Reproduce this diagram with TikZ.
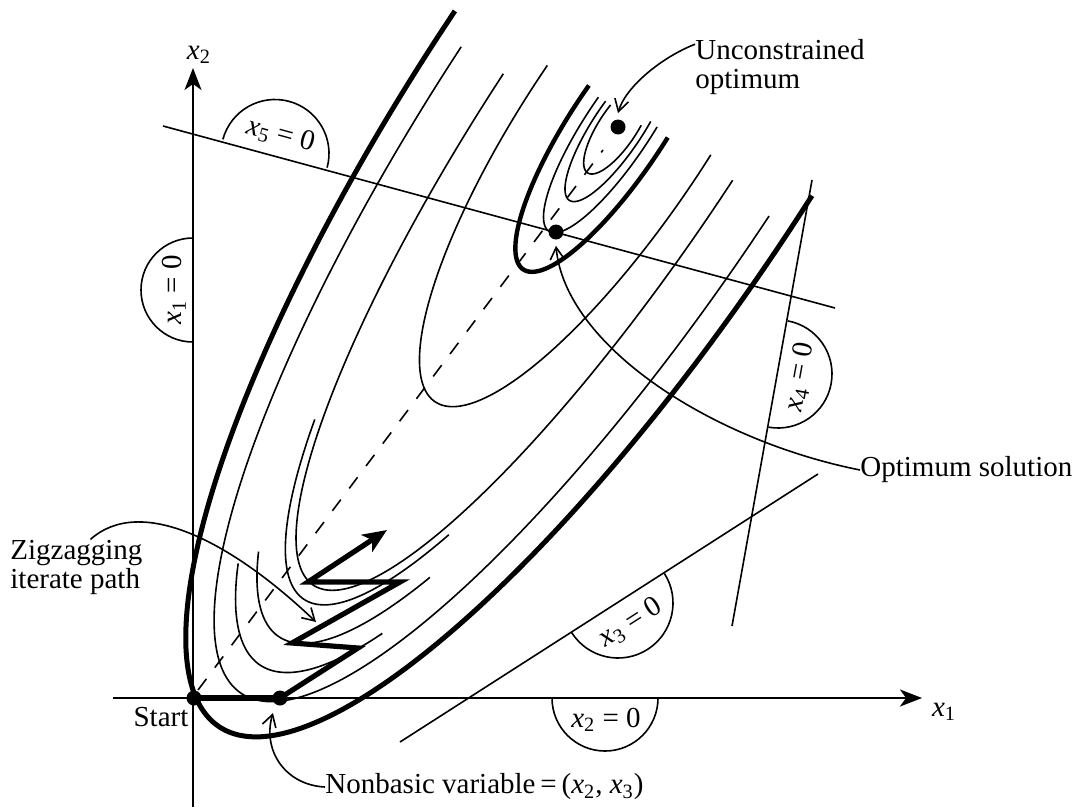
\documentclass[tikz,border=0pt]{standalone}
\usepackage{fontspec}
\setmainfont{Liberation Serif}
\usetikzlibrary{arrows.meta, positioning}

\newcommand{\xv}[1]{\textit{x}\textsubscript{#1}}
% level curve of the objective: half ellipse round the unconstrained optimum
\newcommand{\levelcurve}[5][contour]{\draw [#1] plot[domain=#4:#5, samples=70, smooth]
    ({618 - 0.554*#2*cos(\x) + 0.833*#3*sin(\x)}, {127 + 0.833*#2*cos(\x) + 0.554*#3*sin(\x)});}

\tikzstyle{lbl} = [font=\fontsize{14.5}{14.5}\selectfont, inner sep=0pt]
\tikzstyle{contour} = [line width=0.8pt]
\tikzstyle{bound} = [line width=2.5pt]
\tikzstyle{cline} = [line width=0.8pt]
\tikzstyle{axis} = [line width=0.9pt, -{Stealth[length=11pt,width=8.5pt,inset=3pt]}]
\tikzstyle{callout} = [line width=0.8pt, -{Straight Barb[length=6pt,width=7pt]}]
\tikzstyle{zig} = [line width=2.6pt, line join=miter]
\tikzstyle{dot} = [circle, fill=black, inner sep=0pt, minimum size=7.5pt]

\begin{document}
\begin{tikzpicture}[x=0.5pt, y=-0.5pt]
    \useasboundingbox (0,0) rectangle (1079,808);

    % axes
    \coordinate (o1) at (113,698);
    \coordinate (x1end) at (922,698);
    \coordinate (o2) at (193,807);
    \coordinate (x2end) at (193,68);
    \draw [axis] (o1) -- (x1end);
    \draw [axis] (o2) -- (x2end);
    \node (x1lab) [lbl] at (944,712) {\xv{1}};
    \node (x2lab) [lbl] at (199,55) {\xv{2}};

    % constraint lines
    \draw [cline] (163,126) -- (835,308);
    \draw [cline] (812,180) -- (732,626);
    \draw [cline] (400,742) -- (818,474);

    % half circles round the constraint labels
    \draw [cline] (275,153.5) ++(195.2:54) arc[start angle=195.2, delta angle=180, radius=54];
    \draw [cline] (193,290) ++(90:52) arc[start angle=90, delta angle=180, radius=52];
    \draw [cline] (778,374) ++(280.3:54) arc[start angle=280.3, delta angle=180, radius=54];
    \draw [cline] (618,603) ++(327.4:55) arc[start angle=327.4, delta angle=180, radius=55];
    \draw [cline] (605,698) ++(0:53) arc[start angle=0, delta angle=180, radius=53];

    \node (l5) [lbl, rotate=-15.2] at (281,135) {\xv{5} = 0};
    \node (l1) [lbl, rotate=90] at (174,290) {\xv{1} = 0};
    \node (l4) [lbl, rotate=79.7] at (800,377) {\xv{4} = 0};
    \node (l3) [lbl, rotate=32.6] at (631,623) {\xv{3} = 0};
    \node (l2) [lbl] at (606,720) {\xv{2} = 0};

    % level curves
    \levelcurve[bound]{720}{200}{-90.5}{94}
    \levelcurve{680}{175}{-88.3}{90.8}
    \levelcurve{646}{162}{-27.4}{31.3}
    \levelcurve{612}{149}{-25.5}{38.5}
    \levelcurve{567}{131.5}{-43.5}{40.2}
    \levelcurve{550}{125}{-88}{92}
    \levelcurve{330}{93}{-92.1}{94.9}
    \levelcurve[bound, line width=2.2pt]{171}{47.5}{-96.2}{96.3}
    \levelcurve{125}{33}{-96.4}{100}
    \levelcurve{88}{25}{-99.6}{105}
    \levelcurve{55}{19}{-105}{105}
    \draw [contour, dash pattern=on 7pt off 7pt] (198,690) -- (603,150);

    % points
    \node (start) [dot] at (194,698) {};
    \node (basic) [dot] at (280,698) {};
    \node (optsol) [dot] at (556,232) {};
    \node (uncon) [dot] at (618,127) {};

    % zigzag path
    \coordinate (z1) at (358,648);
    \coordinate (z2) at (292,643);
    \coordinate (z3) at (400,582);
    \coordinate (z4) at (308,582);
    \coordinate (z5) at (387,530);
    \draw [zig] (start.center) -- (basic.center);
    \draw [zig, -{Stealth[length=12pt,width=10pt,inset=3pt]}] (basic.center) -- (z1) -- (z2) -- (z3) -- (z4) -- (z5);

    % texts
    \node (starttext) [lbl] at (161,717) {Start};
    \node (zigtext) [lbl, align=left, anchor=west] at (10,567) {Zigzagging\\iterate path};
    \node (nbtext) [lbl, anchor=west] at (325,787) {Nonbasic variable\,=\,(\xv{2}, \xv{3})};
    \node (unctext) [lbl, align=left, anchor=west] at (695,67) {Unconstrained\\optimum};
    \node (opttext) [lbl, anchor=west] at (860,470) {Optimum solution};

    % callouts
    \coordinate (zigtip) at (316,622);
    \coordinate (nbtip) at (273,713);
    \draw [callout] ([xshift=7pt]zigtext.north) .. controls (140,495) and (230,540) .. (zigtip);
    \draw [callout] (nbtext.west) .. controls (285,785) and (262,750) .. (nbtip);
    \draw [callout] (unctext.165) .. controls (660,58) and (625,88) .. ([yshift=3pt]uncon.north);
    \draw [callout] (opttext.west) .. controls (710,440) and (565,345) .. ([yshift=-3pt]optsol.south);

\end{tikzpicture}
\end{document}
